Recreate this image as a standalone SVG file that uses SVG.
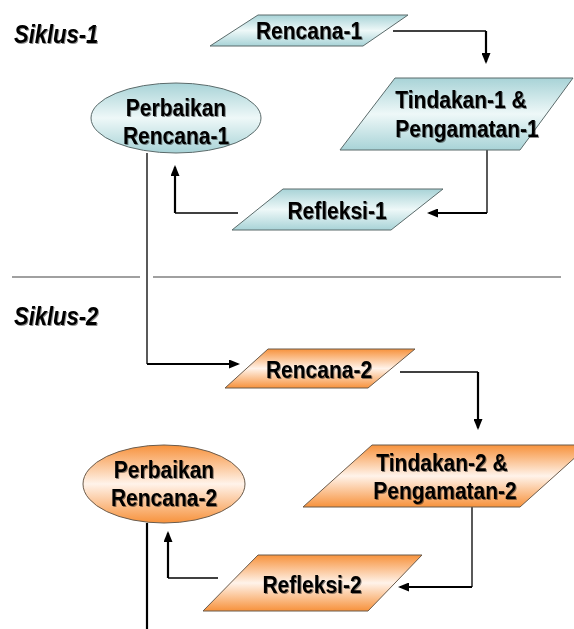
<svg xmlns="http://www.w3.org/2000/svg" width="574" height="629" viewBox="0 0 574 629">
<defs>
<linearGradient id="gBlue" x1="0" y1="0" x2="0" y2="1">
<stop offset="0" stop-color="#a8d3d7"/>
<stop offset="0.5" stop-color="#eef8f8"/>
<stop offset="1" stop-color="#a8d3d7"/>
</linearGradient>
<linearGradient id="gOrange" x1="0" y1="0" x2="0" y2="1">
<stop offset="0" stop-color="#f7923c"/>
<stop offset="0.5" stop-color="#fff3ea"/>
<stop offset="1" stop-color="#f7923c"/>
</linearGradient>
<filter id="ts" x="-10%" y="-20%" width="130%" height="150%">
<feGaussianBlur in="SourceAlpha" stdDeviation="0.6"/>
<feOffset dx="1.2" dy="1.2" result="b"/>
<feFlood flood-color="#000" flood-opacity="0.45"/>
<feComposite in2="b" operator="in"/>
<feMerge><feMergeNode/><feMergeNode in="SourceGraphic"/></feMerge>
</filter>
<marker id="ah" markerWidth="11" markerHeight="9" refX="9" refY="4.5" orient="auto" markerUnits="userSpaceOnUse">
<path d="M0,0 L11,4.5 L0,9 z" fill="#000"/>
</marker>
</defs>
<style>
.blue{fill:url(#gBlue);stroke:#5b6b6b;stroke-width:1}
.orange{fill:url(#gOrange);stroke:#6b5b4b;stroke-width:1}
.t{font-family:"Liberation Sans",Arial,sans-serif;font-weight:bold;font-size:21px;fill:#000;text-anchor:middle;filter:url(#ts)}
.h{font-family:"Liberation Sans",Arial,sans-serif;font-weight:bold;font-style:italic;font-size:22px;fill:#000;filter:url(#ts)}
.ln{fill:none;stroke:#000;stroke-width:1.3}
.la{fill:none;stroke:#000;stroke-width:2.2;marker-end:url(#ah)}
.sep{stroke:#808080;stroke-width:1.6}
</style>

<text class="h" x="14" y="43" transform="matrix(1 0 0 1.14 0 -6.02)">Siklus-1</text>
<text class="h" x="14" y="325" transform="matrix(1 0 0 1.14 0 -45.5)">Siklus-2</text>
<line class="sep" x1="12" y1="277" x2="140" y2="277"/>
<line class="sep" x1="153" y1="277" x2="561" y2="277"/>

<g id="connectors">
<path class="ln" d="M393,31 H486"/>
<path class="la" d="M486,31 V62"/>
<path class="ln" d="M487,150 V213"/>
<path class="la" d="M487,213 H429"/>
<path class="ln" d="M238,213 H175"/>
<path class="la" d="M175,213 V167"/>
<path class="ln" d="M147,153 V364"/>
<path class="la" d="M147,364 H238"/>
<path class="ln" d="M400,372 H478"/>
<path class="la" d="M478,372 V428"/>
<path class="ln" d="M472,507 V587"/>
<path class="la" d="M472,587 H400"/>
<path class="ln" d="M218,578 H168"/>
<path class="la" d="M168,578 V533"/>
<path class="la" d="M147,523 V640"/>
</g>

<g id="rencana1">
<polygon class="blue" points="258,15 408,15 363,46 210,46"/>
<text class="t" x="309" y="39" transform="matrix(1 0 0 1.12 0 -4.68)">Rencana-1</text>
</g>
<g id="tindakan1">
<polygon class="blue" points="395,78 573,78 520,150 340,150"/>
<text class="t" x="461" y="108" transform="matrix(1 0 0 1.12 0 -12.96)">Tindakan-1 &amp;</text>
<text class="t" x="467" y="137" transform="matrix(1 0 0 1.12 0 -16.44)">Pengamatan-1</text>
</g>
<g id="refleksi1">
<polygon class="blue" points="283,189 443,189 391,230 232,230"/>
<text class="t" x="337" y="219" transform="matrix(1 0 0 1.12 0 -26.28)">Refleksi-1</text>
</g>
<g id="perbaikan1">
<ellipse class="blue" cx="176" cy="118" rx="85" ry="35"/>
<text class="t" x="176" y="116" transform="matrix(1 0 0 1.12 0 -13.92)">Perbaikan</text>
<text class="t" x="176" y="144" transform="matrix(1 0 0 1.12 0 -17.28)">Rencana-1</text>
</g>
<g id="rencana2">
<polygon class="orange" points="268,349 415,349 368,388 225,388"/>
<text class="t" x="319" y="378" transform="matrix(1 0 0 1.12 0 -45.36)">Rencana-2</text>
</g>
<g id="tindakan2">
<polygon class="orange" points="372,445 589,445 520,507 303,507"/>
<text class="t" x="442" y="471" transform="matrix(1 0 0 1.12 0 -56.52)">Tindakan-2 &amp;</text>
<text class="t" x="445" y="499" transform="matrix(1 0 0 1.12 0 -59.88)">Pengamatan-2</text>
</g>
<g id="refleksi2">
<polygon class="orange" points="258,555 422,555 368,611 203,611"/>
<text class="t" x="312" y="593" transform="matrix(1 0 0 1.12 0 -71.16)">Refleksi-2</text>
</g>
<g id="perbaikan2">
<ellipse class="orange" cx="164" cy="484" rx="81" ry="39"/>
<text class="t" x="164" y="478" transform="matrix(1 0 0 1.12 0 -57.36)">Perbaikan</text>
<text class="t" x="164" y="506" transform="matrix(1 0 0 1.12 0 -60.72)">Rencana-2</text>
</g>
</svg>
